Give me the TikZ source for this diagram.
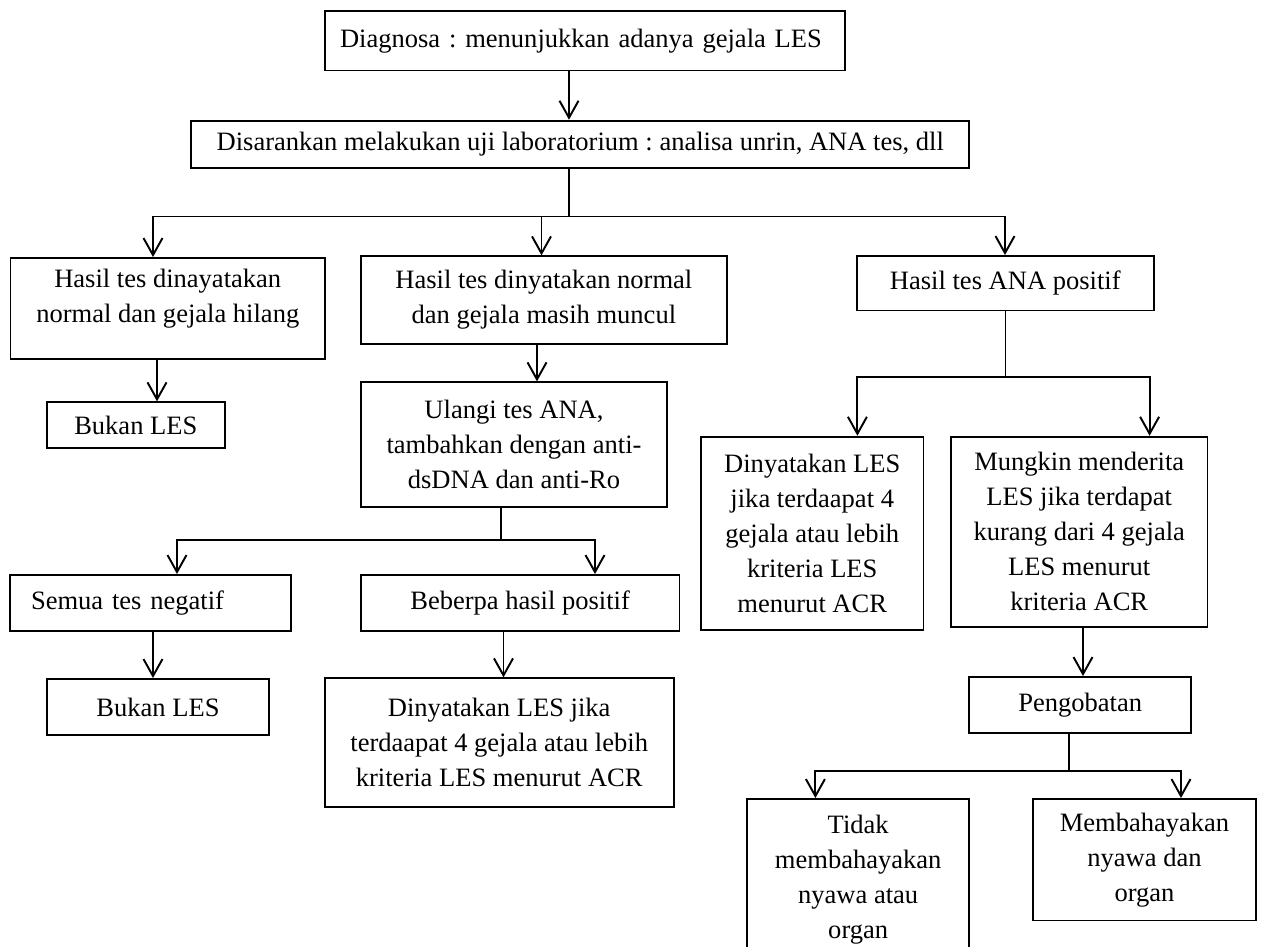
\documentclass[tikz,border=0pt]{standalone}
\usepackage{fontspec}
\setmainfont{Liberation Serif}
\usetikzlibrary{arrows.meta}
\frenchspacing
\begin{document}
\begin{tikzpicture}[x=0.02cm,y=-0.02cm,
  box/.style={draw=black, line width=1.1pt, align=center, inner sep=0pt,
    font=\fontsize{15.1}{19.92}\selectfont},
  arr/.style={line width=1.1pt,
    -{Straight Barb[length=0.34cm,width=0.38cm,line width=1.1pt]}},
  ln/.style={line width=1.1pt}]
% page frame
\clip (0,0) rectangle (1262,947);
\fill[white] (0,0) rectangle (1262,947);

% ---- boxes ----
\node[box, minimum width=10.41cm, minimum height=1.19cm, text width=9.79cm, align=left]
  (diag) at (584.75,40.75) {Diagnosa : menunjukkan adanya gejala LES};
\node[box, minimum width=15.57cm, minimum height=0.952cm]
  (lab) at (580.25,144.5) {Disarankan melakukan uji laboratorium : analisa unrin, ANA tes, dll};

\node[box, minimum width=6.29cm, minimum height=2.014cm, text depth=14.7pt]
  (hilang) at (167.75,308.35) {Hasil tes dinayatakan\\normal dan gejala hilang};
\node[box, minimum width=7.326cm, minimum height=1.754cm]
  (masih) at (543.85,300.15) {Hasil tes dinyatakan normal\\dan gejala masih muncul};
\node[box, minimum width=5.932cm, minimum height=1.09cm]
  (anapos) at (1005.3,283.25) {Hasil tes ANA positif};

\node[box, minimum width=3.552cm, minimum height=0.92cm]
  (bukan1) at (135.8,425.3) {Bukan LES};
\node[box, minimum width=6.134cm, minimum height=2.488cm]
  (ulangi) at (514,444.5) {Ulangi tes ANA,\\tambahkan dengan anti-\\dsDNA dan anti-Ro};

\node[box, minimum width=5.614cm, minimum height=1.114cm, text width=4.786cm, align=left]
  (semua) at (150.65,602.85) {Semua tes negatif};
\node[box, minimum width=6.376cm, minimum height=1.114cm]
  (beberpa) at (520.1,602.85) {Beberpa hasil positif};
\node[box, minimum width=4.44cm, minimum height=1.12cm]
  (bukan2) at (158,707) {Bukan LES};
\node[box, minimum width=6.98cm, minimum height=2.568cm]
  (dinl) at (499.2,742.5) {Dinyatakan LES jika\\terdaapat 4 gejala atau lebih\\kriteria LES menurut ACR};

\node[box, minimum width=4.45cm, minimum height=3.872cm]
  (dinr) at (812.25,533.5) {Dinyatakan LES\\jika terdaapat 4\\gejala atau lebih\\kriteria LES\\menurut ACR};
\node[box, minimum width=5.13cm, minimum height=3.8cm]
  (mungkin) at (1079.25,531.7) {Mungkin menderita\\LES jika terdapat\\kurang dari 4 gejala\\LES menurut\\kriteria ACR};
\node[box, minimum width=4.448cm, minimum height=1.12cm]
  (obat) at (1080.2,705) {Pengobatan};
\node[box, minimum width=4.448cm, minimum height=3.24cm]
  (tidak) at (858.2,880) {Tidak\\membahayakan\\nyawa atau\\organ};
\node[box, minimum width=4.46cm, minimum height=2.43cm]
  (bahaya) at (1144.5,859.75) {Membahayakan\\nyawa dan\\organ};

% ---- junction points ----
\coordinate (s1) at (569,216.5);
\coordinate (s1l) at (153,216.5);
\coordinate (s1m) at (541.5,216.5);
\coordinate (s1r) at (1005,216.5);
\coordinate (p4) at (157,380);
\coordinate (p5) at (537,370);
\coordinate (s2) at (501.3,540);
\coordinate (s2l) at (177,540);
\coordinate (s2r) at (595,540);
\coordinate (p6) at (153,650);
\coordinate (p7) at (503.5,650);
\coordinate (s3) at (1005.5,376.7);
\coordinate (s3l) at (857.4,376.7);
\coordinate (s3r) at (1149.6,376.7);
\coordinate (p8) at (1083,650);
\coordinate (s4) at (1069,770.7);
\coordinate (s4l) at (815.4,770.7);
\coordinate (s4r) at (1181,770.7);

% ---- connectors ----
\draw[arr] (diag.south -| s1) -- (lab.north -| s1);
\draw[ln] (lab.south -| s1) -- (s1);
\draw[arr] (s1) -| (hilang.north -| s1l);
\draw[arr] (s1) -| (anapos.north -| s1r);
\draw[arr] (s1m) -- (masih.north -| s1m);

\draw[arr] (hilang.south -| p4) -- (bukan1.north -| p4);
\draw[arr] (masih.south -| p5) -- (ulangi.north -| p5);

\draw[ln] (ulangi.south -| s2) -- (s2);
\draw[arr] (s2) -| (semua.north -| s2l);
\draw[arr] (s2) -| (beberpa.north -| s2r);
\draw[arr] (semua.south -| p6) -- (bukan2.north -| p6);
\draw[arr] (beberpa.south -| p7) -- (dinl.north -| p7);

\draw[ln] (anapos.south -| s3) -- (s3);
\draw[arr] (s3) -| (dinr.north -| s3l);
\draw[arr] (s3) -| (mungkin.north -| s3r);
\draw[arr] (mungkin.south -| p8) -- (obat.north -| p8);

\draw[ln] (obat.south -| s4) -- (s4);
\draw[arr] (s4) -| (tidak.north -| s4l);
\draw[arr] (s4) -| (bahaya.north -| s4r);
\end{tikzpicture}
\end{document}
